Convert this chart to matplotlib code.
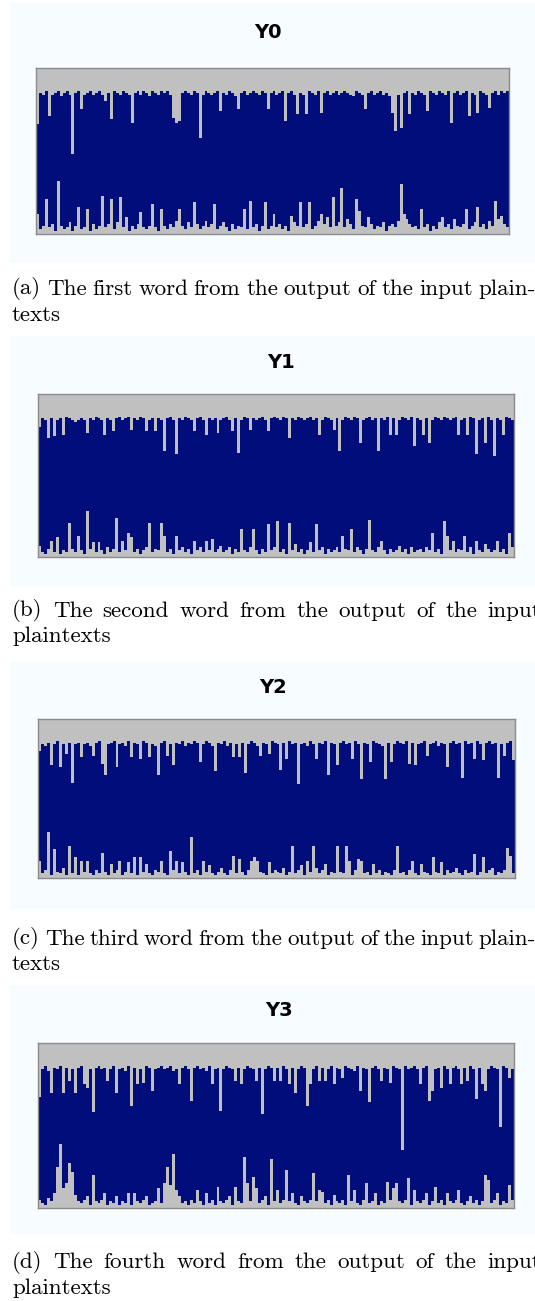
import matplotlib
matplotlib.use("Agg")
import matplotlib.pyplot as plt
from matplotlib.patches import Rectangle
import numpy as np

# ---------------- data (0-100 scale, bar low / high ends) ----------------
titles = ["Y0", "Y1", "Y2", "Y3"]

A_hi = [66,85,84,86,71,84,85,86,83,85,86,84,48,85,86,75,84,85,86,84,
        85,86,84,80,85,69,86,85,84,86,85,84,67,85,86,84,86,85,83,86,
        85,84,86,85,86,84,70,67,68,85,86,85,84,86,85,58,84,86,85,84,
        85,86,74,85,84,86,85,83,75,85,86,84,85,86,85,84,86,85,75,85,
        86,84,85,86,68,85,86,84,72,85,84,72,86,85,84,86,73,85,86,84,
        85,86,84,85,86,85,84,83,86,85,84,75,85,86,84,85,86,84,85,83,
        73,62,84,64,85,86,72,85,84,86,85,84,74,86,85,84,86,85,84,86,
        67,85,86,84,85,86,71,85,84,73,86,85,84,76,85,86,84,86,85,86]
A_lo = [12,3,5,21,4,6,2,32,5,3,4,7,2,5,16,3,4,15,2,6,
        3,5,23,4,6,21,3,7,22,4,10,2,5,3,6,13,4,3,5,18,
        4,2,15,5,3,6,4,8,15,5,3,7,4,19,6,3,5,8,4,6,
        18,3,5,7,4,2,6,3,5,4,15,3,20,4,6,2,5,19,3,5,
        12,4,6,3,5,2,11,7,5,19,4,6,19,3,5,8,12,6,10,4,
        22,5,7,28,4,9,6,3,21,14,5,4,10,6,3,5,4,7,2,5,
        6,4,8,30,12,9,6,4,5,3,15,4,6,2,5,3,7,10,4,6,
        3,9,5,4,6,15,3,5,7,16,4,6,3,8,5,20,9,11,6,4]

B_hi = [80,85,84,73,85,74,84,85,75,86,85,84,83,84,85,84,76,85,84,86,
        85,84,75,85,84,77,85,86,84,85,86,78,85,84,86,85,77,84,85,77,
        85,84,65,85,86,84,63,85,84,86,85,84,77,85,86,84,75,85,84,85,
        76,84,85,86,84,77,85,64,84,86,85,78,85,84,85,86,84,77,85,86,
        85,84,86,85,73,85,84,86,85,84,85,86,84,85,75,84,86,85,84,78,
        85,65,84,86,85,84,86,85,70,84,85,86,84,85,65,85,84,86,75,85,
        75,84,86,85,84,86,68,85,84,75,85,70,84,86,85,84,86,85,84,85,
        86,75,84,85,75,86,85,63,84,85,70,86,84,62,85,84,75,86,85,84]
B_lo = [7,3,2,5,10,3,12,2,4,3,21,5,3,13,4,2,28,5,9,3,
        9,4,2,6,3,5,24,3,10,4,15,12,3,5,2,4,6,21,3,5,
        4,21,13,3,5,2,13,4,6,3,5,2,10,4,6,3,10,4,11,3,
        5,7,3,4,6,2,5,3,17,4,3,6,17,4,2,5,3,20,4,6,
        22,3,5,2,21,4,8,3,5,2,4,9,3,20,4,6,2,5,3,4,
        6,3,13,5,4,17,3,6,4,2,5,23,4,3,6,10,4,2,5,3,
        4,7,3,5,2,6,3,4,5,3,6,4,15,3,5,2,22,13,4,10,
        3,5,4,13,3,6,2,10,4,3,8,5,3,4,10,3,5,2,15,6]

C_hi = [80,84,83,85,71,84,86,70,84,78,85,60,84,85,76,84,85,83,77,85,
        86,72,65,84,85,86,70,84,85,83,86,76,85,84,75,86,85,76,84,83,
        65,85,86,77,84,71,85,84,86,83,85,84,86,85,73,84,86,85,83,67,
        85,84,86,83,85,76,84,76,85,66,84,86,85,83,77,85,84,78,86,85,
        84,68,85,75,86,84,85,59,84,85,83,86,84,75,85,84,86,65,85,84,
        71,85,86,84,85,75,86,84,62,85,84,73,86,85,84,83,62,85,73,84,
        86,85,84,86,72,85,71,84,85,86,77,84,85,86,83,85,84,70,85,86,
        84,85,63,86,84,85,75,86,84,74,85,86,84,85,63,84,77,85,86,74]
C_lo = [11,3,5,29,2,18,4,3,6,2,20,3,13,2,11,4,11,3,2,5,
        3,16,4,2,9,3,5,11,2,4,10,3,13,2,13,4,9,3,2,5,
        4,11,3,2,17,5,11,3,10,4,2,26,3,5,2,11,4,8,3,2,
        4,6,3,2,5,14,3,12,4,2,5,11,13,11,4,3,2,10,3,5,
        4,3,6,2,4,20,3,5,8,2,11,4,20,6,3,5,9,2,4,3,
        20,4,3,20,11,2,5,12,11,3,4,2,9,3,5,2,4,3,2,5,
        20,3,4,2,5,11,3,2,9,4,3,2,13,4,3,10,2,5,3,4,
        6,3,2,5,3,4,15,2,4,13,3,5,6,2,4,3,5,19,14,3]

D_hi = [67,84,86,83,70,85,84,86,70,85,77,84,70,85,86,75,73,84,58,85,
        86,84,85,77,84,86,70,84,85,83,86,62,85,75,84,76,86,85,71,84,
        85,86,84,85,86,83,84,75,85,86,84,65,85,86,84,85,83,86,75,84,
        85,59,84,86,85,84,77,85,75,84,86,85,84,77,85,57,84,86,85,77,
        85,77,86,84,75,85,70,84,86,85,62,75,84,86,77,85,77,84,86,75,
        85,84,79,86,85,84,83,86,71,85,84,64,85,86,84,77,85,84,76,86,
        85,84,35,86,84,85,86,84,75,85,86,65,71,84,85,73,86,84,75,85,
        86,84,75,85,77,86,84,66,85,75,71,84,86,85,84,49,86,85,79,84]
D_lo = [5,3,2,6,4,9,25,39,12,15,27,22,8,4,3,5,7,2,20,4,
        3,5,9,2,4,3,7,2,4,3,9,2,9,4,3,5,7,2,3,4,
        12,3,15,25,14,33,11,7,3,4,2,5,3,11,4,2,9,3,5,2,
        13,4,3,5,7,2,13,4,3,31,15,4,19,12,3,5,7,2,30,4,
        11,3,5,23,4,9,3,2,7,4,3,5,21,4,11,10,3,5,2,8,
        4,3,5,2,20,4,11,3,2,5,15,3,4,9,2,4,3,16,5,12,
        15,4,3,5,18,2,11,4,3,5,9,2,4,13,3,5,2,9,4,3,
        5,11,3,2,4,7,3,5,2,4,20,17,3,5,9,2,4,3,14,5]

captions = [
    ["(a) The first word from the output of the input plain-", "texts"],
    ["(b) The second word from the output of the input", "plaintexts"],
    ["(c) The third word from the output of the input plain-", "texts"],
    ["(d) The fourth word from the output of the input", "plaintexts"],
]

# ---------------- layout (pixels) ----------------
W, H = 535, 1301
NAVY = "#000d7a"
GREY = "#c0c0c0"
PANEL_BG = "#f6fcff"

layout = [
    dict(bg=(10, 3, 535, 263), ax=(36, 68, 509, 234), tx=268, ty=32, cy=(289, 315), right=536),
    dict(bg=(10, 336, 535, 587), ax=(38, 394, 514, 557), tx=281, ty=362, cy=(611, 636), right=541),
    dict(bg=(10, 661, 535, 909), ax=(38, 719, 515, 878), tx=273, ty=688, cy=(939, 964), right=536),
    dict(bg=(10, 985, 535, 1234), ax=(38, 1043, 514, 1208), tx=279, ty=1011, cy=(1262, 1288), right=541),
]

his = [A_hi, B_hi, C_hi, D_hi]
los = [A_lo, B_lo, C_lo, D_lo]

fig = plt.figure(figsize=(W / 100, H / 100), dpi=100)
fig.patch.set_facecolor("white")


def fx(p):
    return p / W


def fy(p):
    return 1 - p / H


renderer = fig.canvas.get_renderer()
CAP_SIZE = 16.6


def place_line(text, x0, x1, y):
    words = text.split()
    ts = [fig.text(0, fy(y), w, fontsize=CAP_SIZE, family="cmr10", va="center", ha="left")
          for w in words]
    widths = [t.get_window_extent(renderer).width for t in ts]
    if x1 is None or len(words) < 2:
        gap = 6
    else:
        gap = (x1 - x0 - sum(widths)) / (len(words) - 1)
    x = x0
    for t, w in zip(ts, widths):
        t.set_x(fx(x))
        x += w + gap


for k, L in enumerate(layout):
    bx0, by0, bx1, by1 = L["bg"]
    fig.patches.append(Rectangle((fx(bx0), fy(by1)), (bx1 - bx0) / W, (by1 - by0) / H,
                                 transform=fig.transFigure, facecolor=PANEL_BG,
                                 edgecolor="none", zorder=-10))
    x0, y0, x1, y1 = L["ax"]
    ax = fig.add_axes([fx(x0), fy(y1), (x1 - x0) / W, (y1 - y0) / H])
    ax.set_zorder(5)
    ax.set_facecolor(GREY)
    hi = np.array(his[k], dtype=float)
    lo = np.array(los[k], dtype=float)
    n = min(len(hi), len(lo))
    edges = np.arange(n + 1) - 0.5
    # floating bars from lo to hi, drawn as one stepped band (no seams)
    ax.stairs(hi[:n], edges, baseline=lo[:n], fill=True, color=NAVY, linewidth=0)
    ax.set_xlim(-0.5, n - 0.5)
    ax.set_ylim(0, 100)
    ax.set_xticks([])
    ax.set_yticks([])
    for s in ax.spines.values():
        s.set_color("#8a8a8a")
        s.set_linewidth(1.0)

    fig.text(fx(L["tx"]), fy(L["ty"]), titles[k], ha="center", va="center",
             fontsize=14, fontweight="bold",
             family=["Liberation Sans Narrow", "DejaVu Sans"], color="black")

    place_line(captions[k][0], 12, L["right"], L["cy"][0])
    place_line(captions[k][1], 12, None, L["cy"][1])

fig.savefig("out.png", dpi=100, facecolor="white")
